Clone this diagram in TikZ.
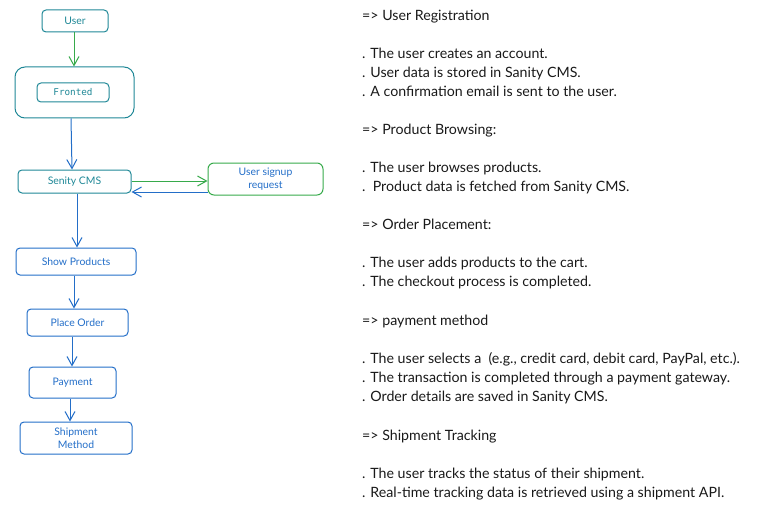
\documentclass[tikz,border=0pt]{standalone}
\usepackage{fontspec}
\setmainfont{Lato}
\setmonofont{DejaVu Sans Mono}
\usetikzlibrary{arrows.meta}
\definecolor{teal}{RGB}{30,135,150}
\definecolor{cblue}{RGB}{35,110,200}
\definecolor{cgreen}{RGB}{55,170,75}
\definecolor{ink}{RGB}{25,25,25}
\tikzset{
  box/.style={draw, line width=1pt, rounded corners=4pt, inner sep=0pt, align=center, font=\fontsize{10.4}{13.5}\selectfont},
  tbox/.style={box, draw=teal, text=teal},
  bbox/.style={box, draw=cblue, text=cblue},
  gbox/.style={box, draw=cgreen, text=cblue},
  arr/.style={line width=1pt, -{Straight Barb[length=9pt,width=10pt]}},
  txt/.style={anchor=mid west, inner sep=0pt, text=ink, font=\fontsize{14.2}{16}\selectfont},
}
\begin{document}
\begin{tikzpicture}[x=1pt,y=-1pt]
\useasboundingbox (0,0) rectangle (773,508);
% nodes
\node[tbox, minimum width=66pt, minimum height=22pt] (user) at (75,21) {User};
\node[draw=teal, line width=1pt, rounded corners=10pt, minimum width=119pt, minimum height=51pt, inner sep=0pt] (front) at (74.5,92.5) {};
\node[tbox, minimum width=72pt, minimum height=19pt, font=\ttfamily\fontsize{9.3}{10}\selectfont] (fronted) at (73,92.5) {Fronted};
\node[tbox, minimum width=113pt, minimum height=23pt] (cms) at (74.5,181.5) {Senity CMS};
\node[gbox, minimum width=115pt, minimum height=32pt, rounded corners=6pt] (signup) at (265.5,179) {User signup\\request};
\node[bbox, minimum width=120pt, minimum height=27pt] (show) at (76,261.5) {Show Products};
\node[bbox, minimum width=101pt, minimum height=27pt] (order) at (77.5,322.5) {Place Order};
\node[bbox, minimum width=87pt, minimum height=31pt] (pay) at (72.5,382.5) {Payment};
\node[bbox, minimum width=112pt, minimum height=32pt] (ship) at (76,438) {Shipment\\Method};
% connectors
\draw[arr, cgreen] (user.south -| 74,0) -- (front.north -| 74,0);
\draw[arr, cblue] (front.south -| 71,0) -- (cms.north -| 72,0);
\draw[arr, cgreen] (cms.east |- 0,181) -- (signup.west |- 0,181);
\draw[arr, cblue] (signup.west |- 0,192) -- (cms.east |- 0,192);
\draw[arr, cblue] (cms.south -| 77,0) -- (show.north -| 77,0);
\draw[arr, cblue] (show.south -| 74,0) -- (order.north -| 74,0);
\draw[arr, cblue] (order.south -| 72,0) -- (pay.north -| 72,0);
\draw[arr, cblue] (pay.south -| 70,0) -- (ship.north -| 70,0);
% text
\node[txt] (t1) at (362,17.5) {=> User Registration};
\node[txt] (t2) at (362,55.5) {. The user creates an account.};
\node[txt] (t3) at (362,74.5) {. User data is stored in Sanity CMS.};
\node[txt] (t4) at (362,93.5) {. A confirmation email is sent to the user.};
\node[txt] (t5) at (362,131.5) {=> Product Browsing:};
\node[txt] (t6) at (362,169.5) {. The user browses products.};
\node[txt] (t7) at (362,188.5) {.\ \ Product data is fetched from Sanity CMS.};
\node[txt] (t8) at (362,226.5) {=> Order Placement:};
\node[txt] (t9) at (362,264.5) {. The user adds products to the cart.};
\node[txt] (t10) at (362,283.5) {. The checkout process is completed.};
\node[txt] (t11) at (362,322.5) {=> payment method};
\node[txt] (t12) at (362,360.5) {. The user selects a\ \ (e.g., credit card, debit card, PayPal, etc.).};
\node[txt] (t13) at (362,379.5) {. The transaction is completed through a payment gateway.};
\node[txt] (t14) at (362,398.5) {. Order details are saved in Sanity CMS.};
\node[txt] (t15) at (362,437.5) {=> Shipment Tracking};
\node[txt] (t16) at (362,475.5) {. The user tracks the status of their shipment.};
\node[txt] (t17) at (362,494.5) {. Real-time tracking data is retrieved using a shipment API.};
\end{tikzpicture}
\end{document}
